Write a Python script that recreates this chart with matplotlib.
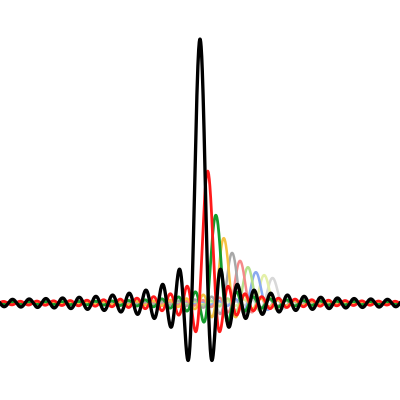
import numpy as np
import matplotlib
matplotlib.use("Agg")
import matplotlib.pyplot as plt

# peak position (x units) and peak height, one per curve
centers = [0.0, 0.92, 1.9, 2.85, 3.85, 4.8, 5.75, 6.7, 7.7, 8.7]
heights = [1.0, 0.50, 0.333, 0.246, 0.19, 0.16, 0.136, 0.117, 0.106, 0.095]
colors = ['black', '#ff1a1a', '#149c2c', '#f5c242', '#a8a8a8',
          '#f48a8a', '#b4e08c', '#8aaaf0', '#e4f0a8', '#d8d8d8']
widths = [2.4, 2.0, 2.0, 1.8, 1.8, 1.8, 1.8, 1.8, 1.8, 1.8]

x = np.linspace(-24, 24, 2000)

fig = plt.figure(figsize=(4, 4), dpi=100)
ax = fig.add_axes([0, 0, 1, 1])

# draw the faint ones first so black ends up on top
for c, h, col, lw in reversed(list(zip(centers, heights, colors, widths))):
    ax.plot(x, h * np.sinc(x - c), color=col, lw=lw)

ax.set_xlim(-24, 24)
ax.set_ylim(-0.367, 1.148)
ax.axis('off')

fig.savefig('out.png', dpi=100)
